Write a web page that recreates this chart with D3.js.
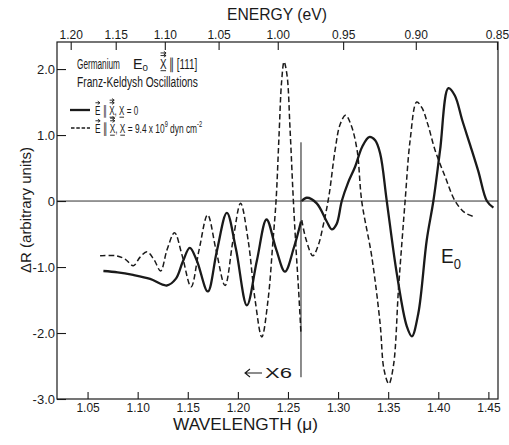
<!DOCTYPE html>
<html><head><meta charset="utf-8">
<script src="https://cdn.jsdelivr.net/npm/d3@7"></script>
<style>
body{margin:0;background:#fff}
svg{display:block}
text{font-family:"Liberation Sans",Arial,sans-serif;fill:#1a1a1a;white-space:pre}
</style>
</head><body><svg id="c" width="509" height="445"></svg>
<script>
// ---- data ----
const wavelengthTicks = [1.05, 1.10, 1.15, 1.20, 1.25, 1.30, 1.35, 1.40, 1.45];
const energyTicks = [1.20, 1.15, 1.10, 1.05, 1.00, 0.95, 0.90, 0.85];
const yTicks = [2, 1, 0, -1, -2, -3];

// X = 0 (solid); left of the marker line the trace is magnified x6
const solidLeftLambda = [1.0658, 1.080, 1.0954, 1.1124, 1.129, 1.138, 1.145, 1.152, 1.159, 1.170, 1.179, 1.189, 1.198, 1.209, 1.219, 1.2286, 1.238, 1.247, 1.256, 1.263];
const solidLeftDR     = [-1.06, -1.08, -1.12, -1.18, -1.28, -1.18, -0.92, -0.71, -0.90, -1.37, -0.76, -0.18, -0.72, -1.58, -0.90, -0.28, -0.72, -1.07, -0.70, -0.31];
const solidRightLambda = [1.2638, 1.2688, 1.2787, 1.2887, 1.2937, 1.2985, 1.3037, 1.310, 1.317, 1.324, 1.331, 1.337, 1.342, 1.3486, 1.3586, 1.3686, 1.3736, 1.3801, 1.3885, 1.3951, 1.4018, 1.4101, 1.4165, 1.424, 1.432, 1.440, 1.4485, 1.455];
const solidRightDR     = [0.00, 0.05, -0.035, -0.31, -0.43, -0.35, 0.00, 0.28, 0.52, 0.82, 0.97, 0.92, 0.72, 0.00, -1.10, -1.90, -2.05, -1.70, -0.59, 0.00, 0.77, 1.71, 1.60, 1.22, 0.84, 0.45, 0.00, -0.10];

// X = 9.4e9 dyn cm^-2 (dashed)
const dashLeftLambda = [1.0625, 1.079, 1.0874, 1.0957, 1.1024, 1.1094, 1.1164, 1.1229, 1.1293, 1.1368, 1.1443, 1.1533, 1.1613, 1.1698, 1.1782, 1.1872, 1.1952, 1.2027, 1.2102, 1.2172, 1.2239, 1.2301, 1.2351, 1.2381, 1.2411, 1.2436, 1.2461, 1.2491, 1.2521, 1.2554, 1.2581, 1.2606, 1.263];
const dashLeftDR     = [-0.83, -0.83, -0.88, -0.98, -0.85, -0.77, -0.89, -1.06, -0.74, -0.48, -0.82, -1.30, -0.74, -0.21, -0.74, -1.28, -0.59, -0.035, -0.59, -1.50, -2.06, -1.50, -0.59, 0.00, 1.00, 1.80, 2.11, 1.90, 1.08, 0.00, -0.74, -1.35, -2.02];
const dashRightLambda = [1.2638, 1.268, 1.2748, 1.280, 1.2853, 1.291, 1.297, 1.302, 1.3075, 1.313, 1.319, 1.3236, 1.3336, 1.3419, 1.3459, 1.3507, 1.3554, 1.3602, 1.3639, 1.3669, 1.3719, 1.3785, 1.3838, 1.3898, 1.3968, 1.4068, 1.4168, 1.4268, 1.4367];
const dashRightDR     = [-0.29, -0.58, -0.83, -0.68, -0.36, 0.09, 0.77, 1.16, 1.30, 1.15, 0.77, 0.00, -0.84, -1.85, -2.56, -2.77, -2.48, -1.35, -0.59, 0.00, 0.92, 1.50, 1.41, 1.15, 0.77, 0.37, 0.00, -0.18, -0.24];

const markerLambda = 1.263;
const markerRange = [0.89, -2.67];
const HC = 1.2398; // eV·µm, energy <-> wavelength

// ---- layout ----
const svg = d3.select("#c");
const L = 57, R = 498, T = 42, B = 399;
const x = d3.scaleLinear().domain([1.0195, 1.4596]).range([L, R]);
const y = d3.scaleLinear().domain([-3, 2.41]).range([B, T]);
const ink = "#1a1a1a";
const FF = '"Liberation Sans",Arial,sans-serif';

// frame
svg.append("rect").attr("x", L).attr("y", T).attr("width", R - L).attr("height", B - T)
  .attr("fill", "none").attr("stroke", ink).attr("stroke-width", 1.2);

// axes
const fmtY = v => v === 0 ? "0" : (v < 0 ? "-" : "") + Math.abs(v).toFixed(1);
const ax = (g) => { g.select(".domain").remove(); g.selectAll("line").attr("stroke", ink).attr("stroke-width", 1.1); g.selectAll("text").attr("fill", ink); };

svg.append("g").attr("transform", `translate(0,${B})`)
  .call(d3.axisBottom(x).tickValues(wavelengthTicks).tickFormat(d3.format(".2f")).tickSize(-7).tickPadding(4))
  .call(ax).selectAll("text").attr("font-size", 12).style("font-family", FF);

svg.append("g").attr("transform", `translate(0,${T})`)
  .call(d3.axisTop(x).tickValues(energyTicks.map(e => HC / e)).tickFormat((d, i) => energyTicks[i].toFixed(2)).tickSize(-8).tickPadding(3.5))
  .call(ax).selectAll("text").attr("font-size", 12).style("font-family", FF);

svg.append("g").attr("transform", `translate(${L},0)`)
  .call(d3.axisLeft(y).tickValues(yTicks).tickFormat(fmtY).tickSize(-9).tickPadding(2))
  .call(ax).selectAll("text").attr("font-size", 13).style("font-family", FF);

// zero line
svg.append("line").attr("x1", L).attr("x2", R).attr("y1", y(0)).attr("y2", y(0))
  .attr("stroke", ink).attr("stroke-width", 0.9);

// marker line
svg.append("line").attr("x1", x(markerLambda)).attr("x2", x(markerLambda))
  .attr("y1", y(markerRange[0])).attr("y2", y(markerRange[1]))
  .attr("stroke", ink).attr("stroke-width", 1);

// curves
const line = d3.line().x(d => x(d[0])).y(d => y(d[1])).curve(d3.curveCatmullRom.alpha(0.5));
const zip = (a, b) => a.map((v, i) => [v, b[i]]);
function curve(lam, dr, dashed) {
  const p = svg.append("path").attr("d", line(zip(lam, dr))).attr("fill", "none").attr("stroke", ink)
    .attr("stroke-linejoin", "round");
  if (dashed) p.attr("stroke-width", 1.5).attr("stroke-dasharray", "5.5,3");
  else p.attr("stroke-width", 2.3);
}
curve(dashLeftLambda, dashLeftDR, true);
curve(dashRightLambda, dashRightDR, true);
curve(solidLeftLambda, solidLeftDR, false);
curve(solidRightLambda, solidRightDR, false);

// ---- rich text helper (condensed lettering) ----
function rich(px, py, size, width, parts, rot, subK) {
  const g = svg.append("g").attr("transform", `translate(${px},${py})` + (rot ? ` rotate(${rot})` : ""));
  const t = g.append("text").attr("font-size", size);
  let shift = 0, idx = 0; const deco = [];
  parts.forEach(p => {
    const s = typeof p === "string" ? { t: p } : p;
    const ts = t.append("tspan").text(s.t);
    const target = s.sub ? size * (subK || 0.28) : s.sup ? -size * 0.42 : 0;
    if (target !== shift) { ts.attr("dy", target - shift); shift = target; }
    if (s.sub || s.sup) ts.attr("font-size", size * 0.68);
    if (s.arrow || s.under) deco.push({ i: idx, n: s.t.length, arrow: s.arrow || 0, under: s.under });
    idx += s.t.length;
  });
  const w = t.node().getComputedTextLength();
  const sx = width / w;
  t.attr("transform", `scale(${sx},1)`);
  deco.forEach(d => {
    for (let k = 0; k < d.n; k++) {
      const e = t.node().getExtentOfChar(d.i + k);
      const x1 = (e.x + e.width * 0.08) * sx, x2 = (e.x + e.width * 0.92) * sx;
      for (let a = 0; a < d.arrow; a++) {
        const ay = -size * 0.72 - 2.5 - a * 2.6;
        g.append("path").attr("d", `M${x1},${ay}L${x2},${ay}M${x2 - 2.2},${ay - 1.6}L${x2},${ay}L${x2 - 2.2},${ay + 1.6}`)
          .attr("fill", "none").attr("stroke", ink).attr("stroke-width", 0.9);
      }
      if (d.under) {
        g.append("line").attr("x1", x1).attr("x2", x2).attr("y1", 2.2).attr("y2", 2.2)
          .attr("stroke", ink).attr("stroke-width", 0.9);
      }
    }
  });
  return g;
}

// axis titles
rich(227, 19.5, 16, 100, ["ENERGY (eV)"]);
rich(173, 430, 16, 145, ["WAVELENGTH (\u03bc)"]);
rich(31, 273, 15, 126, ["\u0394R (arbitrary units)"], -90);

// legend / title block
rich(77, 68.5, 14.5, 43, ["Germanium"]);
rich(133, 68.5, 14.5, 15, ["E", { t: "0", sub: true }], 0, 0.16);
rich(160, 68.5, 14.5, 38, [{ t: "X", arrow: 2, under: true }, " \u2225 [111]"]);
rich(77, 86.5, 14.5, 121, ["Franz-Keldysh Oscillations"]);

svg.append("line").attr("x1", 70).attr("x2", 90).attr("y1", 110).attr("y2", 110)
  .attr("stroke", ink).attr("stroke-width", 2.3);
svg.append("line").attr("x1", 71).attr("x2", 90).attr("y1", 128).attr("y2", 128)
  .attr("stroke", ink).attr("stroke-width", 1.5).attr("stroke-dasharray", "3.5,1.8");

rich(95, 115, 13.5, 43, [{ t: "E", arrow: 1 }, " \u2225 ", { t: "X", arrow: 2, under: true }, ", ", { t: "X", under: true }, " = 0"]);
rich(95, 133, 13.5, 107, [{ t: "E", arrow: 1 }, " \u2225 ", { t: "X", arrow: 2, under: true }, ", ", { t: "X", under: true }, " = 9.4 x 10", { t: "9", sup: true }, " dyn cm", { t: "-2", sup: true }]);

// annotations
svg.append("path").attr("d", "M245,373L262,373M250,369L245,373L250,377")
  .attr("fill", "none").attr("stroke", ink).attr("stroke-width", 1.1);
rich(265, 378, 14, 27, ["X6"]);
rich(441, 263, 21, 20, ["E", { t: "0", sub: true }]);
</script>
</body></html>
